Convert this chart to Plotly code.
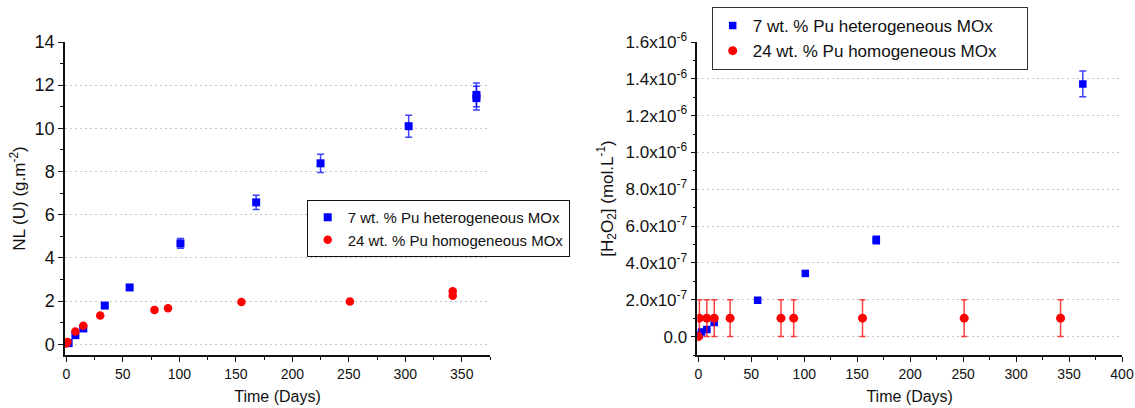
import plotly.graph_objects as go

# ---------------- data ----------------
# Left panel: NL(U) (g.m-2) vs time (days)
het_nl_days = [2, 8, 15, 34, 56, 101, 168, 225, 303, 363, 363]
het_nl_vals = [0.05, 0.42, 0.73, 1.79, 2.63, 4.67, 6.57, 8.38, 10.1, 11.4, 11.55]
het_nl_err = [0.02, 0.03, 0.04, 0.06, 0.08, 0.23, 0.33, 0.42, 0.51, 0.55, 0.55]

hom_nl_days = [0, 1, 8, 15, 30, 78, 90, 155, 251, 342, 342]
hom_nl_vals = [0.03, 0.1, 0.59, 0.85, 1.33, 1.59, 1.67, 1.95, 1.98, 2.25, 2.45]

# Right panel: [H2O2] (mol.L-1) vs time (days)
het_h2o2_days = [1, 3, 8, 15, 56, 101, 168, 168, 363]
het_h2o2_vals = [1e-8, 2.5e-8, 3.8e-8, 7.6e-8, 1.97e-7, 3.43e-7, 5.2e-7, 5.28e-7, 1.372e-6]
het_h2o2_err = [2e-9, 3e-9, 4e-9, 6e-9, 8e-9, 1e-8, 1.2e-8, 1.2e-8, 7e-8]

hom_h2o2_days = [0, 1, 8, 15, 30, 78, 90, 155, 251, 342]
hom_h2o2_vals = [0, 1e-7, 1e-7, 1e-7, 1e-7, 1e-7, 1e-7, 1e-7, 1e-7, 1e-7]
hom_h2o2_err = [0, 1e-7, 1e-7, 1e-7, 1e-7, 1e-7, 1e-7, 1e-7, 1e-7, 1e-7]

series_names = ["7 wt. % Pu heterogeneous MOx", "24 wt. % Pu homogeneous MOx"]

left_y_ticks = [0, 2, 4, 6, 8, 10, 12, 14]
right_y_tickvals = [0, 2e-7, 4e-7, 6e-7, 8e-7, 1e-6, 1.2e-6, 1.4e-6, 1.6e-6]
right_y_ticktext = ["0.0", "2.0x10<sup>-7</sup>", "4.0x10<sup>-7</sup>", "6.0x10<sup>-7</sup>",
                    "8.0x10<sup>-7</sup>", "1.0x10<sup>-6</sup>", "1.2x10<sup>-6</sup>",
                    "1.4x10<sup>-6</sup>", "1.6x10<sup>-6</sup>"]

BLUE = "#0000FF"
RED = "#FF0000"
FONT = "Liberation Sans, Arial, sans-serif"
PAD = "<span style='color:rgba(0,0,0,0)'>MM</span>"  # invisible padding to widen right legend box

fig = go.Figure()

# Left panel
fig.add_trace(go.Scatter(
    x=het_nl_days, y=het_nl_vals, mode="markers", name=series_names[0],
    marker=dict(symbol="square", size=8, color=BLUE),
    error_y=dict(type="data", array=het_nl_err, color="rgba(0,0,255,0.75)", thickness=1.5, width=3.5),
    xaxis="x", yaxis="y", legend="legend"))
fig.add_trace(go.Scatter(
    x=hom_nl_days, y=hom_nl_vals, mode="markers", name=series_names[1],
    marker=dict(symbol="circle", size=8.5, color=RED),
    xaxis="x", yaxis="y", legend="legend"))

# Right panel
fig.add_trace(go.Scatter(
    x=het_h2o2_days, y=het_h2o2_vals, mode="markers", name=series_names[0] + PAD,
    marker=dict(symbol="square", size=7.5, color=BLUE),
    error_y=dict(type="data", array=het_h2o2_err, color="rgba(0,0,255,0.75)", thickness=1.5, width=3.5),
    xaxis="x2", yaxis="y2", legend="legend2"))
fig.add_trace(go.Scatter(
    x=hom_h2o2_days, y=hom_h2o2_vals, mode="markers", name=series_names[1],
    marker=dict(symbol="circle", size=9, color=RED),
    error_y=dict(type="data", array=hom_h2o2_err, color="rgba(255,0,0,0.75)", thickness=1.5, width=3),
    xaxis="x2", yaxis="y2", legend="legend2"))

W, H = 1135, 408
y_dom = [1 - 355 / H, 1 - 42 / H]

axis_common = dict(
    showline=True, linecolor="#111", linewidth=1.5, mirror=False,
    ticks="outside", ticklen=5, tickwidth=1.2, tickcolor="#111",
    zeroline=False, automargin=False,
    tickfont=dict(family=FONT, size=14, color="#111"),
)
GRID_DASH = "2px,3px"

fig.update_layout(
    width=W, height=H,
    margin=dict(l=0, r=0, t=0, b=0),
    paper_bgcolor="white", plot_bgcolor="white",
    font=dict(family=FONT, color="#111"),
    showlegend=True,
    xaxis=dict(**axis_common, domain=[65 / W, 490 / W], range=[-1.2, 375],
               tickvals=[0, 50, 100, 150, 200, 250, 300, 350],
               minor=dict(ticks="outside", ticklen=3, dtick=25, tick0=0, tickcolor="#111", showgrid=False),
               showgrid=False, anchor="y",
               title=dict(text="Time (Days)", font=dict(family=FONT, size=16), standoff=10)),
    yaxis=dict(**{**axis_common, "tickfont": dict(family=FONT, size=18, color="#111")},
               domain=y_dom, range=[-0.5, 14], tickvals=left_y_ticks,
               minor=dict(ticks="outside", ticklen=3, dtick=1, tick0=0, tickcolor="#111", showgrid=False),
               showgrid=True, gridcolor="#c4c4c4", griddash=GRID_DASH, gridwidth=1, anchor="x",
               title=dict(text="NL (U) (g.m<sup>-2</sup>)", font=dict(family=FONT, size=17), standoff=5)),
    xaxis2=dict(**axis_common, domain=[697.3 / W, 1122 / W], range=[-1, 400],
                tickvals=[0, 50, 100, 150, 200, 250, 300, 350, 400],
                minor=dict(ticks="outside", ticklen=3, dtick=25, tick0=0, tickcolor="#111", showgrid=False),
                showgrid=False, anchor="y2",
                title=dict(text="Time (Days)", font=dict(family=FONT, size=16), standoff=10)),
    yaxis2=dict(**{**axis_common, "tickfont": dict(family=FONT, size=17, color="#111")},
                domain=y_dom, range=[-1e-7, 1.6e-6],
                tickvals=right_y_tickvals, ticktext=right_y_ticktext,
                minor=dict(ticks="outside", ticklen=3, dtick=1e-7, tick0=0, tickcolor="#111", showgrid=False),
                showgrid=True, gridcolor="#c4c4c4", griddash=GRID_DASH, gridwidth=1, anchor="x2",
                title=dict(text="[H<sub>2</sub>O<sub>2</sub>] (mol.L<sup>-1</sup>)", font=dict(family=FONT, size=17), standoff=8)),
    legend=dict(x=306.7 / W, y=1 - 200 / H, xanchor="left", yanchor="top",
                bordercolor="#111", borderwidth=1, bgcolor="white",
                font=dict(family=FONT, size=15, color="#111"),
                tracegroupgap=0, itemsizing="trace"),
    legend2=dict(x=711.7 / W, y=1 - 7 / H, xanchor="left", yanchor="top",
                 bordercolor="#333", borderwidth=1, bgcolor="white",
                 font=dict(family=FONT, size=17, color="#111"),
                 tracegroupgap=0, itemsizing="trace"),
)

fig.write_html("out.html", config={"displayModeBar": False},
               post_script="document.body.style.margin='0px';document.body.style.overflow='hidden';")
